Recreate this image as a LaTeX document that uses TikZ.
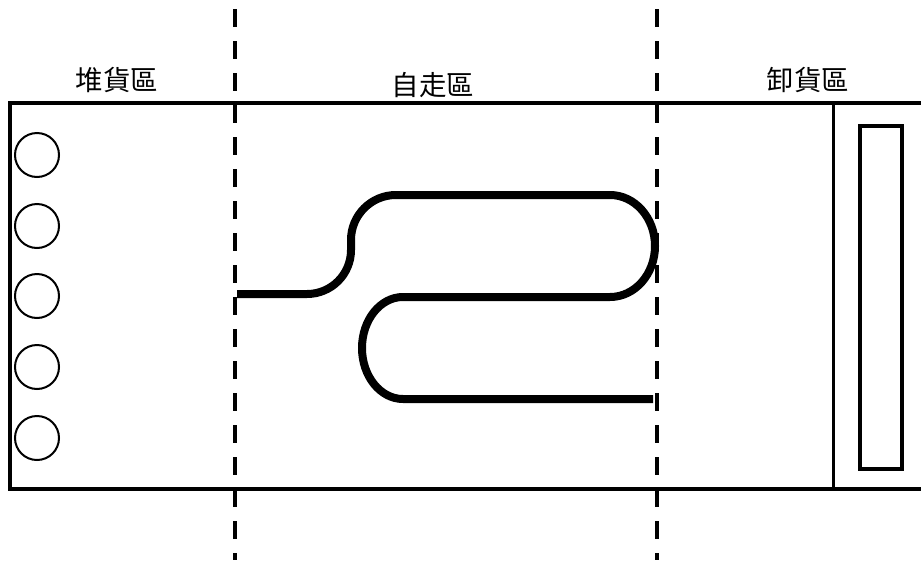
\documentclass[tikz,border=0pt]{standalone}
\usepackage{fontspec}
\newfontfamily\cjk{Noto Sans CJK TC}
\begin{document}
\begin{tikzpicture}[x=1pt,y=-1pt,
  frame/.style={line width=4pt},
  zoneline/.style={line width=4pt,dash pattern=on 18pt off 14pt},
  track/.style={line width=8pt},
  pallet/.style={circle,draw,line width=2pt,minimum size=44pt,inner sep=0pt},
  zonelabel/.style={font=\cjk\fontsize{27.5}{27.5}\selectfont,inner sep=0pt}]
\useasboundingbox (0,0) rectangle (921,560);
\fill[white] (0,0) rectangle (921,560);
% frame
\coordinate (ftr) at (930,103);
\coordinate (ftl) at (10,103);
\coordinate (fbl) at (10,489);
\coordinate (fbr) at (930,489);
\draw[frame] (ftr) -- (ftl) -- (fbl) -- (fbr);
% zone dividers
\coordinate (d1t) at (235,9);
\coordinate (d1b) at (235,560);
\coordinate (d2t) at (657,9);
\coordinate (d2b) at (657,560);
\draw[zoneline] (d1t) -- (d1b);
\draw[zoneline] (d2t) -- (d2b);
% labels
\node[zonelabel] (l1) at (117,80) {堆貨區};
\node[zonelabel] (l2) at (433,85) {自走區};
\node[zonelabel] (l3) at (808,80) {卸貨區};
% pallets
\foreach \i/\y in {1/155,2/226,3/296,4/367,5/438}
  \node[pallet] (p\i) at (37,\y) {};
% unloading zone
\coordinate (ut) at (833,103);
\coordinate (ub) at (833,489);
\draw[line width=3pt] (ut) -- (ub);
\node[draw,line width=3.5pt,minimum width=42pt,minimum height=343pt,inner sep=0pt] (dock) at (881,297.5) {};
% track
\coordinate (ts) at (237,294);
\coordinate (te) at (653,399);
\draw[track] (ts) -- (307,294) arc[start angle=90,end angle=0,radius=44]
  -- (351,240) arc[start angle=180,end angle=270,radius=45]
  -- (610,195) arc[start angle=-90,end angle=90,x radius=45,y radius=51]
  -- (403,297) arc[start angle=270,end angle=90,x radius=41,y radius=51]
  -- (te);
\end{tikzpicture}
\end{document}
